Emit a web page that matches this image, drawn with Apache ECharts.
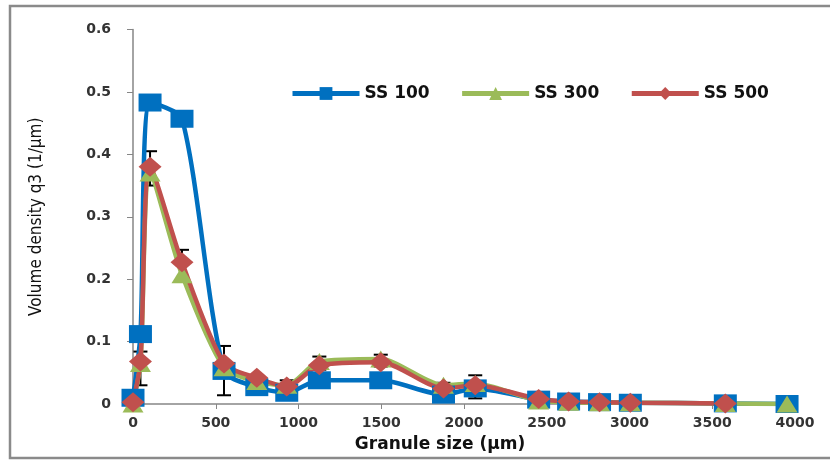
<!DOCTYPE html>
<html>
<head>
<meta charset="utf-8">
<script src="https://cdn.jsdelivr.net/npm/echarts@6/dist/echarts.min.js"></script>
<style>
  html, body { margin: 0; padding: 0; background: #fff; }
  #chart { width: 830px; height: 460px; }
</style>
</head>
<body>
<div id="chart"></div>
<script>
// Granule size (µm) of each sieve fraction
const granuleSize = [0, 45, 103, 296, 550, 748, 929, 1126, 1497, 1876, 2068, 2451, 2632, 2819, 3005, 3579, 3952];

// Volume density q3 (1/µm) per formulation
const ss100 = [0.010, 0.112, 0.483, 0.457, 0.053, 0.027, 0.018, 0.038, 0.038, 0.015, 0.025, 0.007, 0.004, 0.003, 0.002, 0.001, 0.000];
const ss300 = [0.000, 0.065, 0.370, 0.207, 0.058, 0.036, 0.030, 0.068, 0.072, 0.030, 0.033, 0.005, 0.003, 0.002, 0.002, 0.001, 0.000];
const ss500 = [0.003, 0.068, 0.380, 0.227, 0.065, 0.042, 0.028, 0.062, 0.067, 0.025, 0.030, 0.008, 0.004, 0.003, 0.002, 0.001, null];

// Standard deviation bars: size, lower end, upper end
const errSize = [45, 103, 296, 550, 748, 929, 1126, 1497, 1876, 2068];
const errLow  = [0.030, 0.350, 0.196, 0.014, 0.016, 0.018, 0.055, 0.060, 0.020, 0.009];
const errHigh = [0.084, 0.405, 0.247, 0.093, 0.045, 0.038, 0.076, 0.079, 0.034, 0.046];

const xTicks = [0, 500, 1000, 1500, 2000, 2500, 3000, 3500, 4000];
const yTicks = [0, 0.1, 0.2, 0.3, 0.4, 0.5, 0.6];

const pairs = ys => granuleSize.map((x, i) => [x, ys[i]]);
const errData = errSize.map((x, i) => [x, errLow[i], errHigh[i]]);

const tickFont = { fontFamily: 'DejaVu Sans', fontSize: 14, fontWeight: 'bold', color: '#333' };

const chart = echarts.init(document.getElementById('chart'), null, { renderer: 'canvas' });

function lineSeries(name, data, color, symbol, size) {
  return {
    name, type: 'line', data,
    smooth: 0.25,
    symbol, symbolSize: size,
    showAllSymbol: true,
    connectNulls: false,
    lineStyle: { color, width: 4.5 },
    itemStyle: { color, borderWidth: 0 },
    z: 3
  };
}

chart.setOption({
  animation: false,
  backgroundColor: '#fff',
  grid: { left: 133, right: 35, top: 29.5, bottom: 56, containLabel: false },
  // chart-area frame: open on the right side
  graphic: [{
    type: 'polyline',
    shape: { points: [[830, 6], [10, 6], [10, 458], [830, 458]] },
    style: { fill: 'none', stroke: '#8a8a8a', lineWidth: 2.5 },
    silent: true
  }],
  legend: {
    left: 285, top: 80,
    itemWidth: 67, itemHeight: 16, itemGap: 30,
    lineStyle: { width: 5 },
    textStyle: { fontFamily: 'DejaVu Sans', fontSize: 17, fontWeight: 'bold', color: '#111' },
    data: ['SS 100', 'SS 300', 'SS 500']
  },
  xAxis: {
    type: 'value', min: xTicks[0], max: xTicks[xTicks.length - 1], interval: 500,
    name: 'Granule size (µm)', nameLocation: 'middle', nameGap: 32,
    nameTextStyle: { fontFamily: 'DejaVu Sans', fontSize: 17, fontWeight: 'bold', color: '#111', padding: [0, 48, 0, 0] },
    axisLine: { lineStyle: { color: '#868686', width: 1.5 } },
    axisTick: { show: true, length: 5, lineStyle: { color: '#868686' } },
    axisLabel: Object.assign({ margin: 12, formatter: v => String(v) }, tickFont),
    splitLine: { show: false }
  },
  yAxis: {
    type: 'value', min: yTicks[0], max: yTicks[yTicks.length - 1], interval: 0.1,
    name: 'Volume density q3 (1/µm)', nameLocation: 'middle', nameGap: 88,
    nameTextStyle: { fontFamily: "'DejaVu Sans Condensed', 'Liberation Sans', sans-serif", fontSize: 17, color: '#111' },
    axisLine: { show: true, lineStyle: { color: '#868686', width: 1.5 } },
    axisTick: { show: true, length: 6, lineStyle: { color: '#868686' } },
    axisLabel: Object.assign({ margin: 22, formatter: v => v === 0 ? '0' : v.toFixed(1) }, tickFont),
    splitLine: { show: false }
  },
  series: [
    {
      name: 'error', type: 'custom', z: 2,
      encode: { x: 0, y: [1, 2] },
      data: errData,
      renderItem: (params, api) => {
        const x = api.value(0);
        const lo = api.coord([x, api.value(1)]);
        const hi = api.coord([x, api.value(2)]);
        const w = 7;
        const st = { stroke: '#000', lineWidth: 2 };
        return {
          type: 'group',
          children: [
            { type: 'line', shape: { x1: lo[0], y1: lo[1], x2: hi[0], y2: hi[1] }, style: st },
            { type: 'line', shape: { x1: lo[0] - w, y1: lo[1], x2: lo[0] + w, y2: lo[1] }, style: st },
            { type: 'line', shape: { x1: hi[0] - w, y1: hi[1], x2: hi[0] + w, y2: hi[1] }, style: st }
          ]
        };
      }
    },
    lineSeries('SS 100', pairs(ss100), '#0070C0', 'rect', [23, 18]),
    lineSeries('SS 300', pairs(ss300), '#9BBB59', 'triangle', [21, 17]),
    lineSeries('SS 500', pairs(ss500), '#C0504D', 'diamond', [23, 20])
  ]
});
</script>
</body>
</html>
